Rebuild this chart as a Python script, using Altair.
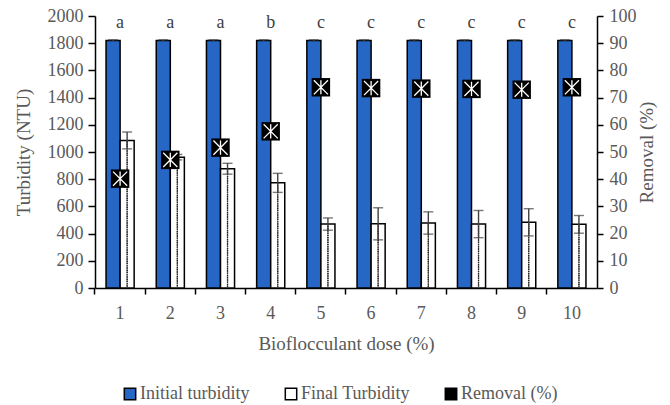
import altair as alt
import pandas as pd

doses = ["1", "2", "3", "4", "5", "6", "7", "8", "9", "10"]
initial = [1820] * 10
initial_err = [5] * 10
final = [1085, 962, 877, 773, 470, 472, 478, 470, 483, 468]
final_err = [62, 20, 40, 70, 45, 118, 82, 100, 100, 65]
removal = [40.2, 47.1, 51.6, 57.6, 73.8, 73.5, 73.3, 73.2, 72.9, 73.8]
letters = ["a", "a", "a", "b", "c", "c", "c", "c", "c", "c"]
letter_y = [1950] * 10
left_ticks = list(range(0, 2001, 200))
right_ticks = list(range(0, 101, 10))

SER = ["Initial turbidity", "Final Turbidity", "Removal (%)"]
FONT = "Liberation Serif"
GREY = "#595959"
BLUE = "#2666C4"

rows = []
for i, d in enumerate(doses):
    rows.append({"dose": d, "series": SER[0], "value": initial[i], "err": initial_err[i]})
    rows.append({"dose": d, "series": SER[1], "value": final[i], "err": final_err[i]})
bars_df = pd.DataFrame(rows)
bars_df["lo"] = bars_df["value"] - bars_df["err"]
bars_df["hi"] = bars_df["value"] + bars_df["err"]
fin_df = bars_df[bars_df["series"] == SER[1]]

rem_df = pd.DataFrame({"dose": doses, "removal": removal})
let_df = pd.DataFrame({"dose": doses, "letter": letters, "y": letter_y})

xscale = alt.Scale(domain=doses, paddingInner=0.44, paddingOuter=0.22)
x = alt.X("dose:N", scale=xscale, sort=doses,
          axis=alt.Axis(title="Bioflocculant dose (%)", labelAngle=0,
                        bandPosition=-0.3929, tickSize=6, labelPadding=10,
                        titlePadding=12))

left_axis = alt.Axis(title="Turbidity (NTU)", values=left_ticks,
                     format="d", labelOverlap=False,
                     tickSize=7, labelPadding=5, titlePadding=14, grid=False,
                     orient="left")
left_scale = alt.Scale(domain=[0, 2000])


def yl(field):
    return alt.Y(field, type="quantitative", scale=left_scale, axis=left_axis)


xoff = alt.XOffset("series:N", scale=alt.Scale(domain=SER[:2]))

color = alt.Color("series:N",
                  scale=alt.Scale(domain=SER, range=[BLUE, "#ffffff", "#000000"]),
                  legend=alt.Legend(title=None, orient="none", direction="horizontal",
                                    legendX=26, legendY=369, symbolType="square",
                                    symbolSize=130, symbolStrokeColor="black",
                                    symbolStrokeWidth=1.5, labelFont=FONT,
                                    labelFontSize=18, labelColor=GREY,
                                    columnPadding=32, symbolOffset=0,
                                    labelOffset=1, symbolOpacity=1))

bars = alt.Chart(bars_df).mark_bar(stroke="black", strokeWidth=1.5).encode(
    x=x, xOffset=xoff, y=yl("value"), color=color
)

dots = []
for off, dash_off in [(-4.5, 0), (-1.5, 1.8), (1.5, 0), (4.5, 1.8)]:
    dots.append(alt.Chart(fin_df).mark_rule(color="#222222", strokeWidth=1.2,
                                            strokeDash=[1.2, 2.4],
                                            strokeDashOffset=dash_off,
                                            xOffset=off).encode(
        x=x, xOffset=xoff, y=yl("value"), y2=alt.value(271)))

errs = alt.Chart(bars_df).mark_rule(color="#404040", strokeWidth=1.4).encode(
    x=x, xOffset=xoff, y=yl("lo"), y2="hi:Q")
caps_hi = alt.Chart(bars_df).mark_tick(color="#404040", thickness=1.4, size=10).encode(
    x=x, xOffset=xoff, y=yl("hi"))
caps_lo = alt.Chart(fin_df).mark_tick(
    color="#404040", thickness=1.4, size=10).encode(x=x, xOffset=xoff, y=yl("lo"))

txt = alt.Chart(let_df).mark_text(font=FONT, fontSize=18, color="#404040",
                                  baseline="middle").encode(
    x=x, y=yl("y"), text="letter:N")

left = alt.layer(bars, *dots, errs, caps_hi, caps_lo, txt)

yright = alt.Y("removal:Q", scale=alt.Scale(domain=[0, 100]),
               axis=alt.Axis(title="Removal (%)", orient="right",
                             values=right_ticks, labelOverlap=False,
                             tickSize=6, labelPadding=6, titlePadding=20,
                             titleAngle=270, grid=False))
sq = alt.Chart(rem_df).mark_point(shape="square", filled=True, color="black",
                                  size=340, opacity=1).encode(x=x, y=yright)
star = alt.Chart(rem_df).mark_point(
    shape="M-1,-1L1,1M1,-1L-1,1M0,-1L0,1", filled=False, color="white",
    strokeWidth=1.3, size=200, opacity=1).encode(x=x, y=yright)
right = alt.layer(sq, star)

chart = alt.layer(left, right).resolve_scale(y="independent").properties(
    width=502, height=272,
    autosize=alt.AutoSizeParams(type="none"),
    padding={"left": 95, "top": 16, "right": 73, "bottom": 117},
).configure_view(stroke=None).configure_axis(
    domainColor="black", domainWidth=1.5, tickColor="black", tickWidth=1.5,
    labelFont=FONT, labelFontSize=18, labelColor=GREY,
    titleFont=FONT, titleFontSize=19, titleColor=GREY, titleFontWeight="normal",
)

chart.save("out.html", embed_options={"renderer": "svg", "actions": False})
